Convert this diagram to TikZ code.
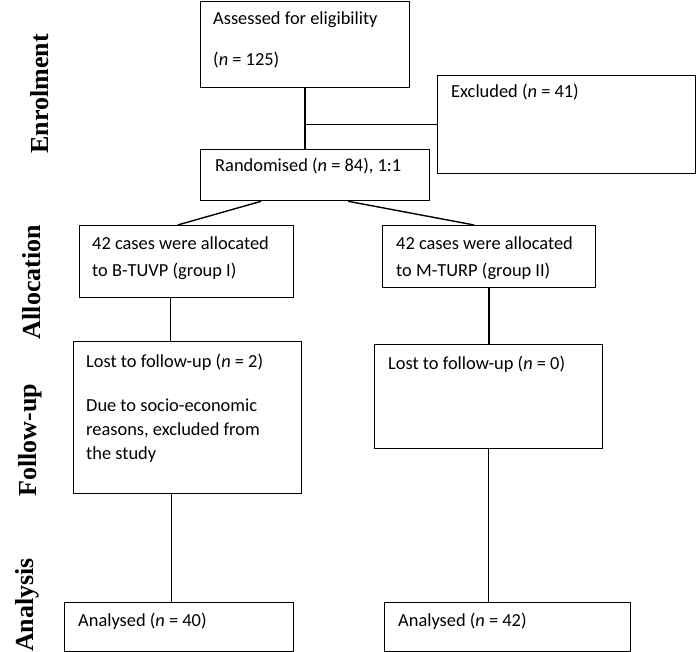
\documentclass[tikz,border=0pt]{standalone}
\usepackage{fontspec}
\setmainfont{Carlito}
\newfontfamily\stagefont{Liberation Serif}
\begin{document}
\begin{tikzpicture}
[x=1pt,y=-1pt,
  boxdecorate/.style={shape=rectangle,draw,line width=1.3pt,anchor=north west,inner sep=0pt},%
  textdecorate/.style={anchor=base west,inner sep=0pt,font=\fontsize{18.4}{22}\selectfont},%
  stagedecorate/.style={anchor=base,rotate=90,inner sep=0pt,font=\stagefont\bfseries\fontsize{26}{30}\selectfont},%
  linedecorate/.style={-,line width=1.4pt}]
\useasboundingbox (0,0) rectangle (696,652);
%% boxes
\foreach \nodename/\x/\y/\w/\h in {assess/200/1/209/86, excl/437/75/258/98,
  random/200/149/229/51, alloca/79/225/214/72, allocb/382/225/213/62,
  losta/73/341/228/152, lostb/374/344/228/104, anala/64/602/229/49,
  analb/384/602/246/49} {
  \node (\nodename) at (\x,\y) [boxdecorate,minimum width=\w pt,minimum height=\h pt] {};
}
%% texts in the boxes
\foreach \textname/\x/\y/\words in {assesst/213/25/Assessed for eligibility,
  assessn/213/66/(\textit{n} = 125), exclt/451/98/Excluded (\textit{n} = 41),
  randomt/215/172/{Randomised (\textit{n} = 84), 1:1},
  allocat/92/250/42 cases were allocated, allocan/92/277/to B-TUVP (group I),
  allocbt/396/250/42 cases were allocated, allocbn/396/277/to M-TURP (group II),
  lostat/86/367/Lost to follow-up (\textit{n} = 2),
  lostaa/86/411/Due to socio-economic, lostab/86/435/{reasons, excluded from},
  lostac/86/459/the study, lostbt/388/369/Lost to follow-up (\textit{n} = 0),
  analat/78/626/Analysed (\textit{n} = 40), analbt/398/626/Analysed (\textit{n} = 42)} {
  \node (\textname) at (\x,\y) [textdecorate] {\words};
}
%% stage labels
\foreach \stagename/\x/\y/\words in {stageenrol/48/94/Enrolment,
  stagealloc/40/282/Allocation, stagefollow/36/440/Follow-up,
  stageanal/33/605/Analysis} {
  \node (\stagename) at (\x,\y) [stagedecorate] {\words};
}
%% ends of the lines
\coordinate (assessin) at (assess.south |- random.north);
\coordinate (exclout) at (excl.west -| assess.south);
\coordinate (randl) at ([xshift=-54pt]random.south);
\coordinate (randr) at ([xshift=33pt]random.south);
\coordinate (allocl) at ([xshift=-9pt]alloca.north);
\coordinate (allocr) at ([xshift=-15pt]allocb.north);
\coordinate (alloclo) at ([xshift=-16pt]alloca.south);
\coordinate (lostlin) at (alloclo |- losta.north);
\coordinate (lostrin) at (allocb.south |- lostb.north);
\coordinate (lostlo) at ([xshift=-16pt]losta.south);
\coordinate (anallin) at (lostlo |- anala.north);
\coordinate (analrin) at (lostb.south |- analb.north);
%% lines
\path
\foreach \startnode/\endnode in {assess.south/assessin, excl.west/exclout,
  randl/allocl, randr/allocr, alloclo/lostlin, allocb.south/lostrin,
  lostlo/anallin, lostb.south/analrin} {
  (\startnode) edge[linedecorate] (\endnode)
};
\end{tikzpicture}
\end{document}
